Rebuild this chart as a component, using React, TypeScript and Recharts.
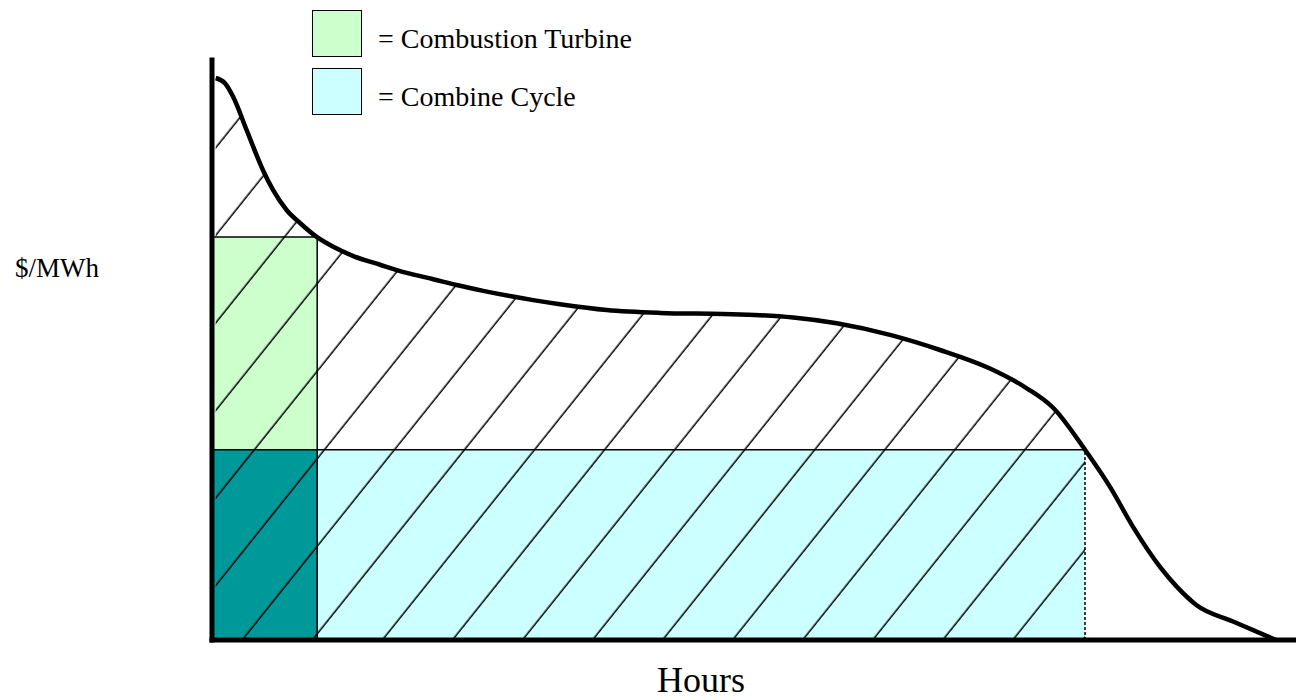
import { ComposedChart, Line, Area, XAxis, YAxis, ReferenceArea, ReferenceLine, Legend } from 'recharts'

// price duration curve, hours sorted by price
const hours = [30, 105, 170, 280, 412, 493, 604, 711, 846, 980, 1142, 1358, 1573, 1788, 1977, 2192, 2408, 2596, 2812, 3190, 3620, 4129, 4428, 4697, 5048, 5479, 5883, 6287, 6584, 6799, 7055, 7257, 7443, 7661, 7796, 7957, 8251, 8600]
const price = [96.9, 96.0, 93.7, 87.9, 81.0, 77.6, 74.1, 71.9, 69.5, 67.8, 66.2, 64.7, 63.3, 62.2, 61.2, 60.2, 59.3, 58.6, 57.9, 56.9, 56.4, 56.2, 56.0, 55.6, 54.6, 52.6, 50.0, 46.8, 43.4, 40.0, 32.8, 26.4, 19.5, 12.6, 9.2, 6.0, 3.2, 0]

// plant blocks: [start hour, end hour], [bottom price, top price]
const ctHours = [0, 850]
const ctPrice = [32.8, 69.5]
const ccHours = [850, 7055]
const ccPrice = [0, 32.8]

const legendLabels = ['= Combustion Turbine', '= Combine Cycle']
const legendColors = ['#ccffcc', '#ccffff']

const serif = '"Liberation Serif", "Times New Roman", serif'

const curve = hours.map((h, i) => ({
  hours: h,
  price: price[i],
  hatch: h <= ccHours[1] ? price[i] : null,
}))

function Key() {
  return (
    <div style={{ fontFamily: serif, color: '#000' }}>
      {legendLabels.map((label, i) => (
        <div key={label} style={{ position: 'relative', height: 47, marginBottom: 11 }}>
          <div
            style={{
              position: 'absolute',
              left: 0,
              top: 0,
              width: 50,
              height: 47,
              boxSizing: 'border-box',
              border: '1.5px solid #000',
              background: legendColors[i],
            }}
          />
          <span style={{ position: 'absolute', left: 66, top: 15, fontSize: 28, lineHeight: '28px', whiteSpace: 'nowrap' }}>
            {label}
          </span>
        </div>
      ))}
    </div>
  )
}

const axisLine = { stroke: '#000', strokeWidth: 5, strokeLinecap: 'square' as const }

export default function App() {
  return (
    <div style={{ position: 'absolute', left: 0, top: 0 }}>
      <ComposedChart
        width={1296}
        height={700}
        data={curve}
        margin={{ top: 60, right: 0, bottom: 0, left: 0 }}
        style={{ fontFamily: serif }}
      >
        <defs>
          <pattern id="hatch" patternUnits="userSpaceOnUse" width={54.7} height={10} patternTransform="rotate(38.66)">
            <line x1={42} y1={0} x2={42} y2={10} stroke="#000" strokeWidth={1.5} />
          </pattern>
        </defs>
        <XAxis
          type="number"
          dataKey="hours"
          domain={[0, 8760]}
          tick={false}
          tickLine={false}
          axisLine={axisLine}
          height={60}
          label={{ value: 'Hours', position: 'insideBottom', offset: 8, dx: -53, fontSize: 36, fill: '#000' }}
        />
        <YAxis
          type="number"
          domain={[0, 100]}
          tick={false}
          tickLine={false}
          axisLine={axisLine}
          width={212}
          label={{ value: '$/MWh', position: 'insideLeft', offset: 15, dy: -82.6, fontSize: 27, fill: '#000' }}
        />
        <ReferenceArea x1={ctHours[0]} x2={ctHours[1]} y1={ctPrice[0]} y2={ctPrice[1]} fill="#ccffcc" fillOpacity={1} stroke="none" zIndex={50} />
        <ReferenceArea x1={ctHours[0]} x2={ctHours[1]} y1={ccPrice[0]} y2={ccPrice[1]} fill="#009999" fillOpacity={1} stroke="none" zIndex={50} />
        <ReferenceArea x1={ccHours[0]} x2={ccHours[1]} y1={ccPrice[0]} y2={ccPrice[1]} fill="#ccffff" fillOpacity={1} stroke="none" zIndex={50} />
        <Area
          dataKey="hatch"
          type="monotone"
          fill="url(#hatch)"
          fillOpacity={1}
          stroke="none"
          isAnimationActive={false}
          zIndex={100}
        />
        <ReferenceLine segment={[{ x: ctHours[0], y: ctPrice[1] }, { x: ctHours[1], y: ctPrice[1] }]} stroke="#000" strokeWidth={1.5} />
        <ReferenceLine segment={[{ x: ctHours[0], y: ccPrice[1] }, { x: ccHours[1], y: ccPrice[1] }]} stroke="#000" strokeWidth={1.5} />
        <ReferenceLine segment={[{ x: ctHours[1], y: 0 }, { x: ctHours[1], y: ctPrice[1] }]} stroke="#000" strokeWidth={1.5} />
        <ReferenceLine segment={[{ x: ccHours[1], y: 0 }, { x: ccHours[1], y: ccPrice[1] }]} stroke="#000" strokeWidth={1.5} strokeDasharray="3 2" />
        <Line dataKey="price" type="monotone" stroke="#000" strokeWidth={4.5} dot={false} isAnimationActive={false} />
        <Legend content={<Key />} layout="horizontal" verticalAlign="middle" wrapperStyle={{ top: 10, left: 312, width: 420 }} />
      </ComposedChart>
    </div>
  )
}
